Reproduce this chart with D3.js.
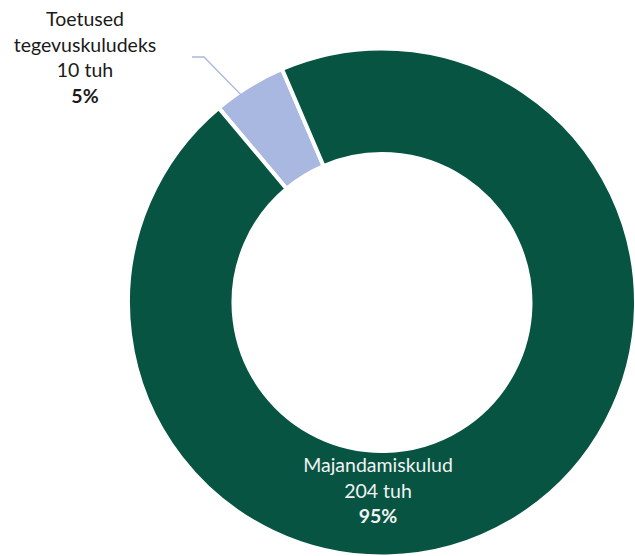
<!DOCTYPE html>
<html><head><meta charset="utf-8">
<script src="https://cdn.jsdelivr.net/npm/d3@7"></script>
<style>body{margin:0;background:#fff;overflow:hidden}svg{display:block}</style>
</head><body>
<script>
const categories = ["Toetused tegevuskuludeks", "Majandamiskulud"];
const labelLines = [["Toetused", "tegevuskuludeks"], ["Majandamiskulud"]];
const values = [10, 204];
const valueLabels = ["10 tuh", "204 tuh"];
const percentLabels = ["5%", "95%"];
const colors = ["#a9b8e0", "#065441"];

const W = 635, H = 556;
const svg = d3.select("body").append("svg").attr("width", W).attr("height", H);
const cx = 382, cy = 302.5, R = 254, r = 148.5;
const g = svg.append("g").attr("transform", `translate(${cx},${cy})`);

const deg = Math.PI / 180;
const pie = d3.pie().sort(null).startAngle(-40 * deg).endAngle(320 * deg);
const arcs = pie(values);
const arc = d3.arc().innerRadius(r).outerRadius(R);

g.selectAll("path.slice").data(arcs).enter().append("path")
  .attr("class", "slice")
  .attr("d", arc)
  .attr("fill", (d, i) => colors[i])
  .attr("stroke", "#fff").attr("stroke-width", 4).attr("stroke-linejoin", "miter");

const font = "Lato, 'Open Sans', sans-serif";
const c0 = arc.centroid(arcs[0]);
svg.append("polyline")
  .attr("points", [[192, 57], [204, 57], [cx + c0[0], cy + c0[1]]].map(p => p.join(",")).join(" "))
  .attr("fill", "none").attr("stroke", colors[0]).attr("stroke-width", 1.3);

function drawLabel(i, x, y0, fill) {
  const lines = labelLines[i].map(t => ({t, b: false}))
    .concat([{t: valueLabels[i], b: false}, {t: percentLabels[i], b: true}]);
  const t = svg.append("text").attr("text-anchor", "middle")
    .attr("font-family", font).attr("font-size", 19.5).attr("fill", fill);
  lines.forEach((l, k) => {
    t.append("tspan").attr("x", x).attr("y", y0 + k * 25.7)
      .attr("font-weight", l.b ? "bold" : "normal").text(l.t);
  });
}
drawLabel(0, 85, 26, "#1a1a1a");
drawLabel(1, 378, 472, "#f2f2f2");
</script>
</body></html>
